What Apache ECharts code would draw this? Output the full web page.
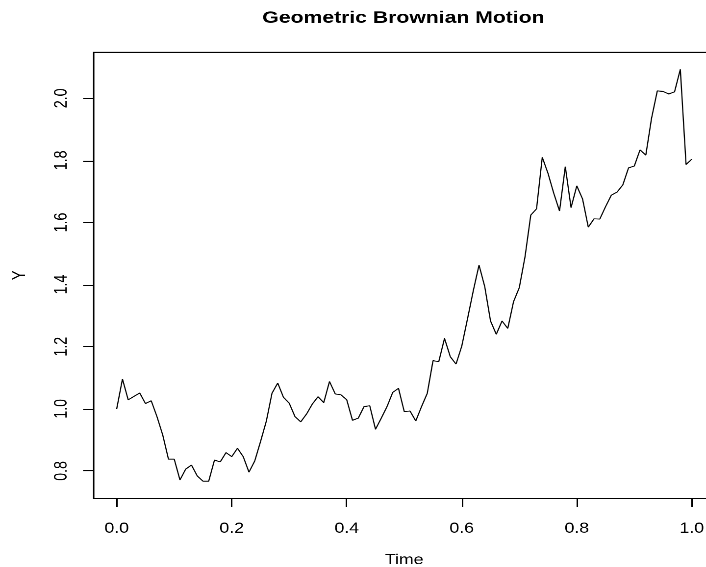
<!DOCTYPE html>
<html>
<head>
<meta charset="utf-8">
<script src="https://cdn.jsdelivr.net/npm/echarts@6/dist/echarts.min.js"></script>
<style>
  html, body { margin: 0; padding: 0; background: #fff; overflow: hidden; width: 706px; height: 567px; }
  /* the reference is an R plot of 480x480 stretched to 706x567 */
  #chart { width: 486px; height: 480px; transform-origin: 0 0; transform: scale(1.4708, 1.18125); }
</style>
</head>
<body>
<div id="chart"></div>
<script>
// time steps 0, 0.01, ..., 1.00
const times = [];
for (let i = 0; i <= 100; i++) times.push(i / 100);

// path values
const yValues = [
  1.000, 1.096, 1.029, 1.040, 1.051, 1.017, 1.026, 0.975, 0.916, 0.838,
  0.838, 0.771, 0.806, 0.819, 0.784, 0.767, 0.767, 0.835, 0.829, 0.859,
  0.846, 0.873, 0.846, 0.796, 0.832, 0.894, 0.959, 1.050, 1.083, 1.037,
  1.018, 0.975, 0.958, 0.983, 1.015, 1.039, 1.020, 1.088, 1.048, 1.045,
  1.029, 0.963, 0.970, 1.007, 1.010, 0.934, 0.970, 1.007, 1.053, 1.066,
  0.991, 0.993, 0.961, 1.007, 1.050, 1.155, 1.152, 1.227, 1.168, 1.144,
  1.202, 1.290, 1.380, 1.463, 1.393, 1.283, 1.240, 1.283, 1.259, 1.345,
  1.390, 1.490, 1.624, 1.644, 1.810, 1.758, 1.694, 1.637, 1.780, 1.648,
  1.718, 1.676, 1.585, 1.612, 1.611, 1.651, 1.688, 1.698, 1.721, 1.776,
  1.782, 1.834, 1.817, 1.936, 2.024, 2.022, 2.014, 2.021, 2.093, 1.787,
  1.804
];

const xTicks = [0, 0.2, 0.4, 0.6, 0.8, 1.0];
const yTicks = [0.8, 1.0, 1.2, 1.4, 1.6, 1.8, 2.0];

const points = times.map((t, i) => [t, yValues[i]]);

const chart = echarts.init(document.getElementById('chart'), null, { renderer: 'canvas', devicePixelRatio: 3 });
const font = 'Liberation Sans, Arial, Helvetica, sans-serif';

const option = {
  animation: false,
  backgroundColor: '#fff',
  textStyle: { fontFamily: font, color: '#000' },
  grid: {
    left: 63.7,
    top: 44.3,
    right: 0,
    bottom: 58.2,
    outerBoundsMode: 'none',
    containLabel: false,
    show: true,
    borderColor: '#000',
    borderWidth: 1,
    backgroundColor: 'transparent'
  },
  graphic: [
    {
      type: 'text',
      x: 274.3,
      y: 15.3,
      style: {
        text: 'Geometric Brownian Motion',
        fontFamily: font,
        fontSize: 14.4,
        fontWeight: 'bold',
        fill: '#000',
        align: 'center',
        verticalAlign: 'middle'
      }
    }
  ],
  xAxis: {
    type: 'value',
    min: -0.04,
    max: 1.04,
    name: 'Time',
    nameLocation: 'middle',
    nameGap: 46.5,
    nameTextStyle: { fontFamily: font, fontSize: 12, color: '#000' },
    axisLine: { show: false, onZero: false },
    splitLine: { show: false },
    axisTick: {
      show: true,
      inside: false,
      length: 7.2,
      customValues: xTicks,
      lineStyle: { color: '#000', width: 1 }
    },
    axisLabel: {
      show: true,
      margin: 20,
      customValues: xTicks,
      fontFamily: font,
      fontSize: 12,
      color: '#000',
      formatter: v => v.toFixed(1)
    }
  },
  yAxis: {
    type: 'value',
    min: 0.712,
    max: 2.148,
    name: 'Y',
    nameLocation: 'middle',
    nameRotate: 90,
    nameGap: 44,
    nameTextStyle: { fontFamily: font, fontSize: 12, color: '#000' },
    axisLine: { show: false, onZero: false },
    splitLine: { show: false },
    axisTick: {
      show: true,
      inside: false,
      length: 7.2,
      customValues: yTicks,
      lineStyle: { color: '#000', width: 1 }
    },
    axisLabel: {
      show: true,
      rotate: 90,
      margin: 15.6,
      customValues: yTicks,
      fontFamily: font,
      fontSize: 12,
      color: '#000',
      formatter: v => v.toFixed(1)
    }
  },
  series: [
    {
      type: 'line',
      data: points,
      showSymbol: false,
      symbol: 'none',
      lineStyle: { color: '#000', width: 0.8 },
      clip: true
    }
  ]
};

chart.setOption(option);
</script>
</body>
</html>
